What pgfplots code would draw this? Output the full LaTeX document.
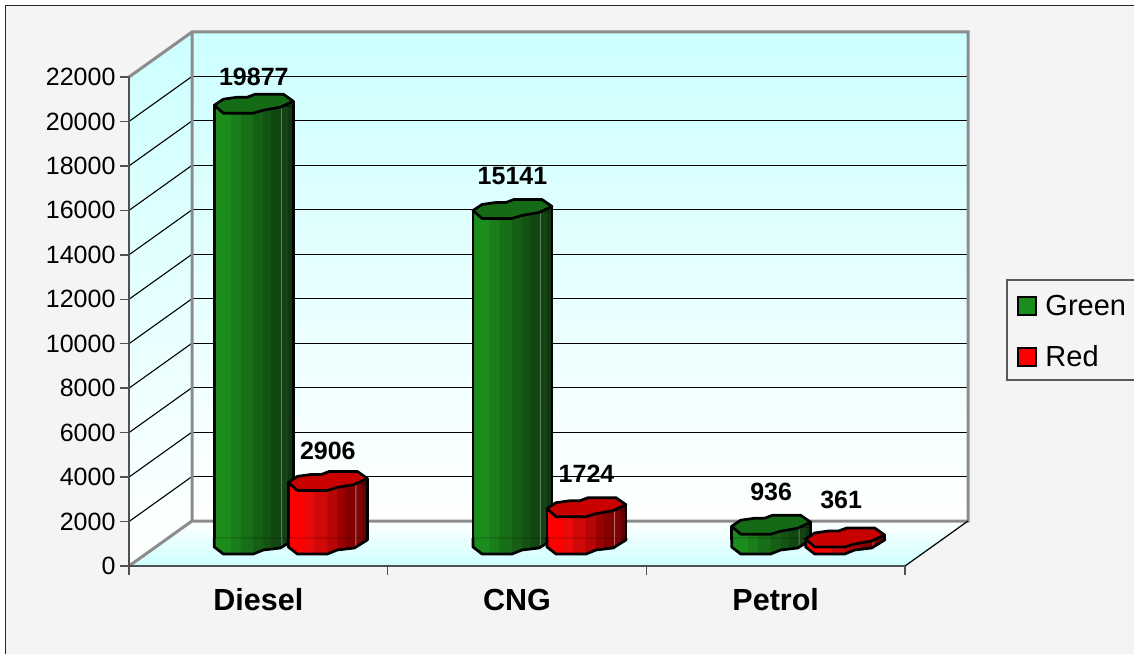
\documentclass[border=0pt]{standalone}
\usepackage{pgfplots}
\pgfplotsset{compat=1.18}
\usepackage{fontspec}
\setmainfont{Liberation Sans}
\definecolor{wallc}{HTML}{CCFFFF}
\definecolor{edgeg}{HTML}{8C8C8C}
\definecolor{axisg}{HTML}{505050}
\definecolor{bgg}{HTML}{F4F4F4}
\definecolor{gtopc}{HTML}{156B15}
\definecolor{rtopc}{HTML}{C80000}
\definecolor{gmain}{HTML}{1C8C1C}
\definecolor{rmain}{HTML}{FF0000}
\definecolor{ga}{HTML}{1A7F1A}\definecolor{gb}{HTML}{177017}\definecolor{gc}{HTML}{156015}
\definecolor{gd}{HTML}{135313}\definecolor{ge}{HTML}{114711}\definecolor{gf}{HTML}{5A825A}
\definecolor{gg}{HTML}{164216}\definecolor{gh}{HTML}{0E380E}
\definecolor{ra}{HTML}{EB0A0A}\definecolor{rb}{HTML}{D00808}\definecolor{rc}{HTML}{B80606}
\definecolor{rd}{HTML}{9B0000}\definecolor{re}{HTML}{820000}\definecolor{rf}{HTML}{BE6E6E}
\definecolor{rg}{HTML}{7D0505}\definecolor{rh}{HTML}{640000}
\pgfdeclarehorizontalshading{greenbody}{100bp}{
 color(0bp)=(gmain); color(35bp)=(gmain);
 color(35.2bp)=(ga); color(41.3bp)=(ga);
 color(41.5bp)=(gb); color(49bp)=(gb);
 color(49.2bp)=(gc); color(55.5bp)=(gc);
 color(55.7bp)=(gd); color(60.5bp)=(gd);
 color(60.7bp)=(ge); color(67bp)=(ge);
 color(67.1bp)=(gf); color(67.5bp)=(gf);
 color(67.6bp)=(gg); color(71.5bp)=(gg);
 color(71.7bp)=(gh); color(100bp)=(gh)}
\pgfdeclarehorizontalshading{redbody}{100bp}{
 color(0bp)=(rmain); color(35bp)=(rmain);
 color(35.2bp)=(ra); color(41.3bp)=(ra);
 color(41.5bp)=(rb); color(49bp)=(rb);
 color(49.2bp)=(rc); color(55.5bp)=(rc);
 color(55.7bp)=(rd); color(60.5bp)=(rd);
 color(60.7bp)=(re); color(67bp)=(re);
 color(67.1bp)=(rf); color(67.5bp)=(rf);
 color(67.6bp)=(rg); color(71.5bp)=(rg);
 color(71.7bp)=(rh); color(100bp)=(rh)}
% top and bottom caps of a cylinder, relative to the point (bar centre, value)
\newcommand\declcaps[3]{%
 \pgfdeclareplotmark{#1top}{%
  \path[shading=#2,shading angle=0] (-39.5pt,0pt)--(39.5pt,4pt)--(39.5pt,-1.5pt)--(-39.5pt,-1.5pt)--cycle;
  \draw[black,line width=2.7pt] (39.5pt,4pt)--(39.5pt,-1.5pt);
  \draw[black,line width=2.7pt,line join=round,fill=#3] (-39.5pt,0pt)--(-30.5pt,6pt)--(-16.5pt,8pt)--(-6.5pt,8pt)--(1.5pt,11pt)--(29.5pt,11pt)--(39.5pt,4pt)--(26.5pt,-2pt)--(9.5pt,-5pt)--(-0.5pt,-8pt)--(-30.5pt,-8pt)--cycle;
 }%
 \pgfdeclareplotmark{#1bot}{%
  \path[shading=#2,shading angle=0] (-39.5pt,9pt)--(-39.5pt,0pt)--(-30.5pt,-7pt)--(-0.5pt,-7pt)--(9.5pt,-3pt)--(26.5pt,-1pt)--(39.5pt,7pt)--(39.5pt,9pt)--cycle;
  \draw[black,line width=2.7pt,line join=round] (-39.5pt,9pt)--(-39.5pt,0pt)--(-30.5pt,-7pt)--(-0.5pt,-7pt)--(9.5pt,-3pt)--(26.5pt,-1pt)--(39.5pt,7pt)--(39.5pt,9pt);
 }%
}
\declcaps{g}{greenbody}{gtopc}
\declcaps{r}{redbody}{rtopc}
% #1 g/r  #2 body shading  #3 bar shift  #4 x  #5 value  #6 label xshift  #7 label yshift  #8,#9 shifts of the two sides
\newcommand\cyl[9]{%
 \addplot[only marks,mark=#1bot,forget plot,xshift=#3pt] coordinates {(#4,0)};
 \addplot[ybar,bar width=79pt,bar shift=#3pt,draw=none,shading=#2,shading angle=0,forget plot] coordinates {(#4,#5)};
 \addplot[ybar,bar width=2.7pt,bar shift=#8pt,draw=none,fill=black,forget plot] coordinates {(#4,#5)};
 \addplot[ybar,bar width=2.7pt,bar shift=#9pt,draw=none,fill=black,forget plot] coordinates {(#4,#5)};
 \addplot[only marks,mark=#1top,forget plot,xshift=#3pt,
   nodes near coords={\pgfmathprintnumber[fixed,1000 sep={},precision=0,assume math mode=true]{\pgfplotspointmeta}},
   nodes near coords style={anchor=center,xshift=#6,yshift=#7,text=black,font=\fontsize{25}{30}\selectfont\bfseries}] coordinates {(#4,#5)};
}
\begin{document}
\begin{tikzpicture}[x=1pt,y=1pt]
\clip (0,0) rectangle (1134,654);
\fill[white] (0,0) rectangle (1134,654);
\fill[bgg] (5.5,0) rectangle (1134,648.5);
\draw[black!85,line width=1.3pt] (5.5,0)--(5.5,648.5)--(1134,648.5);
% walls and floor
\shade[top color=wallc,bottom color=white] (192,133) rectangle (968,622);
\shade[top color=wallc,bottom color=white] (129,88)--(192,133)--(192,622)--(129,577)--cycle;
\shade[top color=white,bottom color=wallc] (129,88)--(905,88)--(968,133)--(192,133)--cycle;
% grid on the left wall
\foreach \k in {1,...,10}
  \draw[black,line width=1.1pt] (129,{88+\k*44.4545})--(192,{133+\k*44.4545});
% grid on the back wall
\begin{axis}[at={(192pt,133pt)},anchor=south west,scale only axis,width=776pt,height=489pt,
  xmin=0,xmax=3,ymin=0,ymax=22000,ytick distance=2000,xtick=\empty,scaled ticks=false,
  ymajorgrids,major grid style={black,line width=1.1pt},
  yticklabels={},major tick length=0pt,axis line style={draw=none}]
\end{axis}
\draw[edgeg,line width=3pt] (129,577)--(192,622)--(968,622)--(968,133)--(192,133)--(192,622);
\draw[edgeg,line width=3pt] (129,88)--(192,133);
\draw[black,line width=1.2pt] (905,88)--(968,133);
% front axes with the scale and the categories
\begin{axis}[at={(129pt,88pt)},anchor=south west,scale only axis,width=776pt,height=489pt,
  xmin=0,xmax=3,ymin=0,ymax=22000,scaled ticks=false,
  axis lines=left,axis line style={-,draw=axisg,line width=2pt},
  tick align=outside,
  ytick distance=2000,major tick length=9pt,
  xtick={0.5,1.5,2.5},xticklabels={Diesel,CNG,Petrol},
  minor xtick={0,1,2,3},minor tick length=9pt,
  major x tick style={draw=none},
  tick style={draw=axisg,line width=1.5pt},
  minor tick style={draw=axisg,line width=1.5pt},
  /pgf/number format/assume math mode=true,
  /pgf/number format/1000 sep={},
  yticklabel style={font=\fontsize{25}{30}\selectfont,black,anchor=east,xshift=-1pt},
  xticklabel style={font=\fontsize{30.5}{36}\selectfont\bfseries,black,anchor=center,yshift=-25pt},
  clip=false]
\end{axis}
% legend box
\fill[bgg] (1007,274) rectangle (1140,374);
\draw[black!65,line width=1.3pt] (1140,374)--(1007,374)--(1007,274)--(1140,274);
% cylinders
\begin{axis}[at={(161.5pt,114pt)},anchor=south west,scale only axis,width=776pt,height=489pt,
  xmin=0,xmax=3,ymin=315,ymax=22315,clip=false,hide axis,
  legend style={at={(1.1019,0.4263)},anchor=west,draw=none,fill=none,
    font=\fontsize{29}{34}\selectfont,row sep=29pt,inner sep=0pt,nodes={inner sep=0pt}},
  legend cell align=left]
\addlegendimage{legend image code/.code={\path[draw=none,fill=none,opacity=0] (0pt,0pt)--(27.5pt,0pt);\draw[fill=gmain,draw=black,line width=2.4pt] (0pt,-9pt) rectangle (18pt,9pt);}}
\addlegendentry{Green}
\addlegendimage{legend image code/.code={\path[draw=none,fill=none,opacity=0] (0pt,0pt)--(27.5pt,0pt);\draw[fill=rmain,draw=black,line width=2.4pt] (0pt,-9pt) rectangle (18pt,9pt);}}
\addlegendentry{Red}
\cyl{g}{greenbody}{-37}{0.5}{19877}{0pt}{28pt}{-76.5}{2.5}
\cyl{g}{greenbody}{-37}{1.5}{15141}{0pt}{34pt}{-76.5}{2.5}
\cyl{g}{greenbody}{-37}{2.5}{936}{0pt}{34pt}{-76.5}{2.5}
\cyl{r}{redbody}{37}{0.5}{2906}{0pt}{32pt}{-2.5}{76.5}
\cyl{r}{redbody}{37}{1.5}{1724}{0pt}{35pt}{-2.5}{76.5}
\cyl{r}{redbody}{37}{2.5}{361}{-4pt}{39pt}{-2.5}{76.5}
\end{axis}
\end{tikzpicture}
\end{document}
